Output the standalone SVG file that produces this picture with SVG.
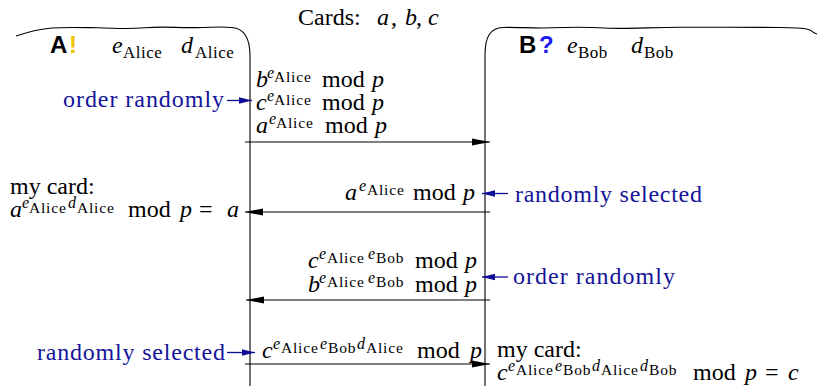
<svg xmlns="http://www.w3.org/2000/svg" width="817" height="386" viewBox="0 0 817 386">
  <style>
    text { font-family: "Liberation Serif", "Times New Roman", serif; fill: #000; font-size: 24px; }
    .i { font-style: italic; }
    .sp { font-size: 16px; font-style: italic; }
    .ss { font-size: 15.5px; letter-spacing: 0.8px; font-style: normal; }
    .hs { font-size: 17px; letter-spacing: 0.5px; font-style: normal; }
    .tag { font-family: "Liberation Sans", Arial, sans-serif; font-weight: bold; }
    .note { fill: #14149a; }
    .life { fill: none; stroke: #000; stroke-width: 1.1; }
    .msg { stroke: #000; stroke-width: 1.1; fill: none; marker-end: url(#ah); }
    .hint { stroke: #0c0c96; stroke-width: 1.3; fill: none; marker-end: url(#bh); }
  </style>
  <defs>
    <marker id="ah" markerUnits="userSpaceOnUse" markerWidth="19" markerHeight="9" refX="18" refY="4" orient="auto">
      <path d="M0,0.4 L18,4 L0,7.6 z" fill="#000"/>
    </marker>
    <marker id="bh" markerUnits="userSpaceOnUse" markerWidth="14" markerHeight="8" refX="13" refY="3.5" orient="auto">
      <path d="M0,0.2 L13,3.5 L0,6.8 z" fill="#0c0c96"/>
    </marker>
  </defs>

  <!-- title -->
  <g id="title">
    <text x="298" y="25">Cards:<tspan class="i" x="377">a</tspan><tspan x="391">,</tspan><tspan class="i" x="405">b</tspan><tspan x="416">,</tspan><tspan class="i" x="428">c</tspan></text>
  </g>

  <!-- Alice: header and lifeline -->
  <g id="alice">
    <path class="life" d="M16,36 C28,32 38,29 52,28 S80,27.5 98,27.8 S125,29.5 145,27.8 S175,28 196,27.6 S222,26.5 232,27.5 C244,28.5 250,37 250,56 L250,386"/>
    <text class="tag" x="50" y="53">A<tspan x="69" style="fill:#f3c200">!</tspan></text>
    <text class="i" x="112" y="53">e<tspan class="hs" x="123" y="57.5">Alice</tspan><tspan x="181" y="53">d</tspan><tspan class="hs" x="195" y="57.5">Alice</tspan></text>
  </g>

  <!-- Bob: header and lifeline -->
  <g id="bob">
    <path class="life" d="M485,386 L485,55 C485,37 490,28 503,27.5 S535,28.5 552,27.8 S585,26.8 605,28 S650,27.3 680,27.3 S740,27 780,27.5 S806,30.5 817,34"/>
    <text class="tag" x="519" y="53">B<tspan x="539" style="fill:#1c1cf0">?</tspan></text>
    <text class="i" x="567" y="53">e<tspan class="hs" x="578" y="57.5">Bob</tspan><tspan x="631" y="53">d</tspan><tspan class="hs" x="644" y="57.5">Bob</tspan></text>
  </g>

  <!-- message labels -->
  <g id="msg1">
    <text class="i" x="256" y="87">b<tspan class="sp" x="267" y="78">e</tspan><tspan class="ss" x="274" y="82">Alice</tspan><tspan style="font-style:normal" x="322" y="87">mod</tspan><tspan x="372" y="87">p</tspan><tspan x="256" y="110">c</tspan><tspan class="sp" x="267" y="101">e</tspan><tspan class="ss" x="274" y="105">Alice</tspan><tspan style="font-style:normal" x="322" y="110">mod</tspan><tspan x="372" y="110">p</tspan><tspan x="256" y="133">a</tspan><tspan class="sp" x="269" y="124">e</tspan><tspan class="ss" x="276" y="128">Alice</tspan><tspan style="font-style:normal" x="325" y="133">mod</tspan><tspan x="375" y="133">p</tspan></text>
  </g>

  <g id="msg2">
    <text class="i" x="345" y="200">a<tspan class="sp" x="359" y="191">e</tspan><tspan class="ss" x="367" y="195">Alice</tspan><tspan style="font-style:normal" x="413" y="200">mod</tspan><tspan x="463" y="200">p</tspan></text>
  </g>

  <g id="alice-card">
    <text x="10" y="194">my card:<tspan class="i" x="10" y="217">a</tspan><tspan class="sp" x="22" y="207.5">e</tspan><tspan class="ss" x="29" y="212.5">Alice</tspan><tspan class="sp" x="68" y="207.5">d</tspan><tspan class="ss" x="77" y="212.5">Alice</tspan><tspan x="128" y="217">mod</tspan><tspan class="i" x="180" y="217">p</tspan><tspan x="199" y="217">=</tspan><tspan class="i" x="227" y="217">a</tspan></text>
  </g>

  <g id="msg3">
    <text class="i" x="308" y="268">c<tspan class="sp" x="319" y="259">e</tspan><tspan class="ss" x="327" y="263">Alice</tspan><tspan class="sp" x="368" y="259">e</tspan><tspan class="ss" x="376" y="263">Bob</tspan><tspan style="font-style:normal" x="415" y="268">mod</tspan><tspan x="465" y="268">p</tspan><tspan x="308" y="292">b</tspan><tspan class="sp" x="319" y="283">e</tspan><tspan class="ss" x="327" y="287">Alice</tspan><tspan class="sp" x="368" y="283">e</tspan><tspan class="ss" x="376" y="287">Bob</tspan><tspan style="font-style:normal" x="415" y="292">mod</tspan><tspan x="465" y="292">p</tspan></text>
  </g>

  <g id="msg4">
    <text class="i" x="262" y="358">c<tspan class="sp" x="273" y="349">e</tspan><tspan class="ss" x="281" y="353">Alice</tspan><tspan class="sp" x="320" y="349">e</tspan><tspan class="ss" x="328" y="353">Bob</tspan><tspan class="sp" x="357" y="349">d</tspan><tspan class="ss" x="366" y="353">Alice</tspan><tspan style="font-style:normal" x="417" y="358">mod</tspan><tspan x="470" y="358">p</tspan></text>
  </g>

  <g id="bob-card">
    <text x="497" y="357">my card:<tspan class="i" x="497" y="380">c</tspan><tspan class="sp" x="508" y="371">e</tspan><tspan class="ss" x="516" y="375">Alice</tspan><tspan class="sp" x="555" y="371">e</tspan><tspan class="ss" x="563" y="375">Bob</tspan><tspan class="sp" x="592" y="371">d</tspan><tspan class="ss" x="601" y="375">Alice</tspan><tspan class="sp" x="640" y="371">d</tspan><tspan class="ss" x="649" y="375">Bob</tspan><tspan x="693" y="380">mod</tspan><tspan class="i" x="745" y="380">p</tspan><tspan x="765" y="380">=</tspan><tspan class="i" x="788" y="380">c</tspan></text>
  </g>

  <!-- annotations -->
  <g id="notes">
    <text class="note" x="63" y="107" textLength="161" lengthAdjust="spacing">order randomly</text>
    <text class="note" x="515" y="202" textLength="187" lengthAdjust="spacing">randomly selected</text>
    <text class="note" x="513" y="284" textLength="162" lengthAdjust="spacing">order randomly</text>
    <text class="note" x="37" y="360" textLength="188" lengthAdjust="spacing">randomly selected</text>
  </g>

  <!-- connectors -->
  <g id="connectors">
    <line class="msg" x1="245" y1="142" x2="490" y2="142"/>
    <line class="msg" x1="490" y1="212" x2="245" y2="212"/>
    <line class="msg" x1="490" y1="300" x2="246" y2="300"/>
    <line class="msg" x1="245" y1="364" x2="490" y2="364"/>
    <line class="hint" x1="227" y1="100.5" x2="252" y2="100.5"/>
    <line class="hint" x1="508" y1="193.5" x2="482" y2="193.5"/>
    <line class="hint" x1="508" y1="277" x2="482" y2="277"/>
    <line class="hint" x1="227" y1="352.5" x2="255" y2="352.5"/>
  </g>
</svg>
